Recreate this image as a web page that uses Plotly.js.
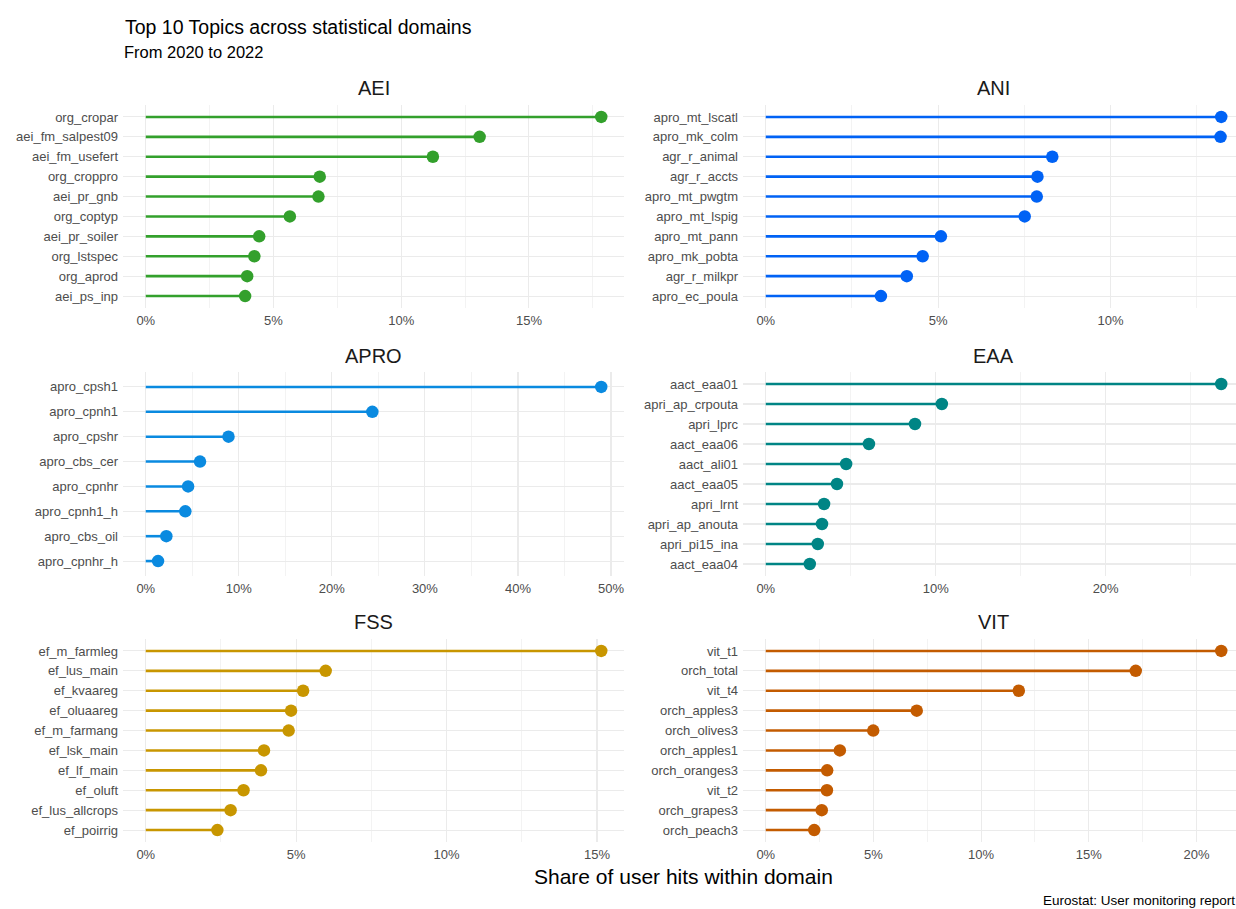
<!DOCTYPE html>
<html>
<head>
<meta charset="utf-8">
<script src="https://cdn.plot.ly/plotly-3.0.1.min.js"></script>
<style>
  html, body { margin: 0; padding: 0; overflow: hidden; background: #ffffff; }
  #chart { width: 1244px; height: 909px; }
</style>
</head>
<body>
<div id="chart"></div>
<script>
// ---- Data (share of user hits within domain, %) ----
const aeiTopics = ["org_cropar", "aei_fm_salpest09", "aei_fm_usefert", "org_croppro", "aei_pr_gnb", "org_coptyp", "aei_pr_soiler", "org_lstspec", "org_aprod", "aei_ps_inp"];
const aeiShare  = [17.83, 13.07, 11.24, 6.81, 6.76, 5.64, 4.44, 4.25, 3.97, 3.89];

const aniTopics = ["apro_mt_lscatl", "apro_mk_colm", "agr_r_animal", "agr_r_accts", "apro_mt_pwgtm", "apro_mt_lspig", "apro_mt_pann", "apro_mk_pobta", "agr_r_milkpr", "apro_ec_poula"];
const aniShare  = [13.21, 13.19, 8.31, 7.88, 7.86, 7.51, 5.08, 4.55, 4.09, 3.34];

const aproTopics = ["apro_cpsh1", "apro_cpnh1", "apro_cpshr", "apro_cbs_cer", "apro_cpnhr", "apro_cpnh1_h", "apro_cbs_oil", "apro_cpnhr_h"];
const aproShare  = [48.95, 24.35, 8.89, 5.83, 4.55, 4.25, 2.21, 1.32];

const eaaTopics = ["aact_eaa01", "apri_ap_crpouta", "apri_lprc", "aact_eaa06", "aact_ali01", "aact_eaa05", "apri_lrnt", "apri_ap_anouta", "apri_pi15_ina", "aact_eaa04"];
const eaaShare  = [26.80, 10.36, 8.78, 6.07, 4.73, 4.19, 3.43, 3.31, 3.06, 2.59];

const fssTopics = ["ef_m_farmleg", "ef_lus_main", "ef_kvaareg", "ef_oluaareg", "ef_m_farmang", "ef_lsk_main", "ef_lf_main", "ef_oluft", "ef_lus_allcrops", "ef_poirrig"];
const fssShare  = [15.14, 5.98, 5.23, 4.83, 4.75, 3.93, 3.83, 3.25, 2.82, 2.38];

const vitTopics = ["vit_t1", "orch_total", "vit_t4", "orch_apples3", "orch_olives3", "orch_apples1", "orch_oranges3", "vit_t2", "orch_grapes3", "orch_peach3"];
const vitShare  = [21.15, 17.18, 11.75, 7.01, 4.99, 3.44, 2.85, 2.84, 2.60, 2.25];

const domainNames = ["AEI", "ANI", "APRO", "EAA", "FSS", "VIT"];
const tickSteps   = [5, 5, 10, 10, 5, 5];

// ---- Styling / layout ----
const W = 1244, H = 909;
const FONT = "Liberation Sans, Arial, Helvetica, sans-serif";
const colors = ["#33a02c", "#0062f5", "#0a8ae0", "#008585", "#c89600", "#c35b00"];
const colPx = [[123, 624], [743, 1244]];
const rowPx = [[105, 308], [372, 576], [639, 842]];
const stripY = [88, 356, 622];
const GRID = "#ebebeb";

const topicsList = [aeiTopics, aniTopics, aproTopics, eaaTopics, fssTopics, vitTopics];
const shareList  = [aeiShare, aniShare, aproShare, eaaShare, fssShare, vitShare];

const px = x => x / W;
const py = y => 1 - y / H;

const traces = [];
const layout = {
  width: W, height: H,
  margin: {l: 0, r: 0, t: 0, b: 0},
  paper_bgcolor: "#ffffff", plot_bgcolor: "#ffffff",
  showlegend: false,
  font: {family: FONT, color: "#4d4d4d"},
  title: {
    text: "Top 10 Topics across statistical domains",
    x: px(125), xanchor: "left", xref: "paper",
    y: 1 - 27 / H, yanchor: "middle", yref: "container",
    font: {family: FONT, size: 19.5, color: "#000000"}
  },
  annotations: []
};

for (let i = 0; i < 6; i++) {
  const topics = topicsList[i], share = shareList[i];
  const n = topics.length;
  const m = Math.max(...share);
  const col = i % 2, row = Math.floor(i / 2);
  const ax = i === 0 ? "" : String(i + 1);
  const xa = "x" + ax, ya = "y" + ax;

  const lx = [], ly = [];
  share.forEach((v, k) => { lx.push(0, v, null); ly.push(topics[k], topics[k], null); });
  traces.push({
    type: "scatter", mode: "lines", x: lx, y: ly, xaxis: xa, yaxis: ya,
    line: {color: colors[i], width: 2.6}, hoverinfo: "skip", cliponaxis: false
  });
  traces.push({
    type: "scatter", mode: "markers", x: share, y: topics, xaxis: xa, yaxis: ya,
    marker: {color: colors[i], size: 12.5}, cliponaxis: false,
    hovertemplate: "%{y}: %{x:.2f}%<extra></extra>"
  });

  layout["xaxis" + ax] = {
    domain: [px(colPx[col][0]), px(colPx[col][1])],
    anchor: ya,
    range: [-0.05 * m, 1.05 * m],
    tick0: 0, dtick: tickSteps[i], ticksuffix: "%",
    showgrid: true, gridcolor: GRID, gridwidth: 1.1,
    minor: {dtick: tickSteps[i] / 2, tick0: 0, showgrid: true, gridcolor: GRID, gridwidth: 0.6},
    zeroline: false, showline: false, ticks: "",
    ticklabelstandoff: 3,
    tickfont: {family: FONT, size: 13, color: "#4d4d4d"},
    fixedrange: true
  };
  layout["yaxis" + ax] = {
    domain: [py(rowPx[row][1]), py(rowPx[row][0])],
    anchor: xa,
    type: "category", categoryorder: "array", categoryarray: topics,
    range: [n - 0.4, -0.6],
    showgrid: true, gridcolor: GRID, gridwidth: 1.1,
    zeroline: false, showline: false, ticks: "",
    ticklabelstandoff: 4,
    tickfont: {family: FONT, size: 13, color: "#4d4d4d"},
    fixedrange: true
  };

  layout.annotations.push({
    text: domainNames[i], showarrow: false,
    xref: "paper", yref: "paper",
    x: px((colPx[col][0] + colPx[col][1]) / 2), xanchor: "center",
    y: py(stripY[row]), yanchor: "middle",
    font: {family: FONT, size: 20, color: "#1a1a1a"}
  });
}

layout.annotations.push({
  text: "From 2020 to 2022", showarrow: false, xref: "paper", yref: "paper",
  x: px(122), xanchor: "left", y: py(52), yanchor: "middle",
  font: {family: FONT, size: 16.5, color: "#000000"}
});
layout.annotations.push({
  text: "Share of user hits within domain", showarrow: false, xref: "paper", yref: "paper",
  x: px(684), xanchor: "center", y: py(876), yanchor: "middle",
  font: {family: FONT, size: 21, color: "#000000"}
});
layout.annotations.push({
  text: "Eurostat: User monitoring report", showarrow: false, xref: "paper", yref: "paper",
  x: px(1237), xanchor: "right", y: py(900), yanchor: "middle",
  font: {family: FONT, size: 13.5, color: "#000000"}
});

Plotly.newPlot("chart", traces, layout, {displayModeBar: false, staticPlot: true});
</script>
</body>
</html>
